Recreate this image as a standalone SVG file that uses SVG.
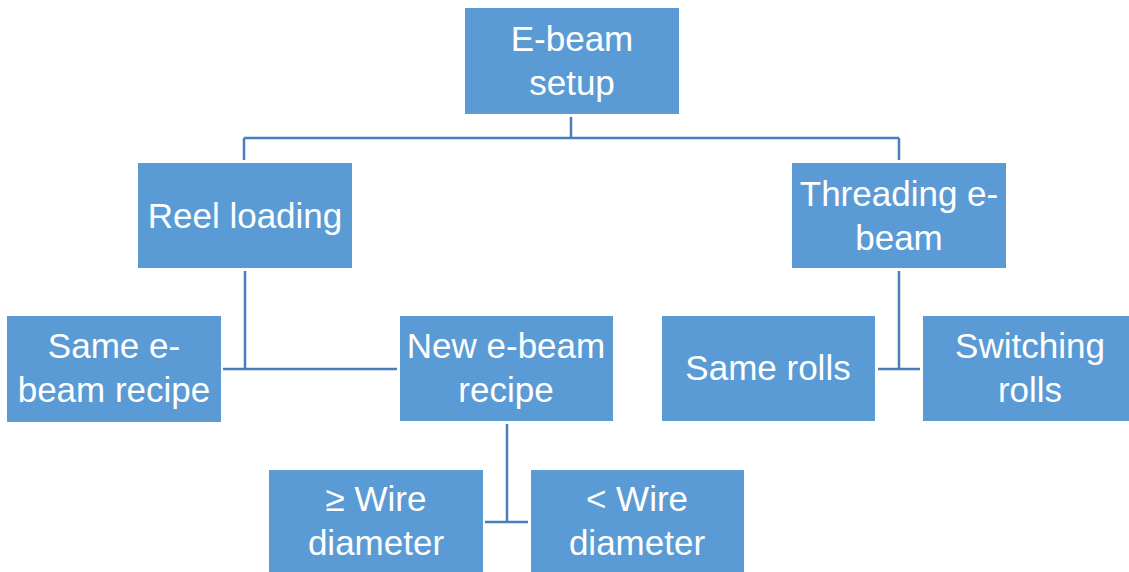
<svg xmlns="http://www.w3.org/2000/svg" width="1129" height="572" viewBox="0 0 1129 572">
<style>
.box{fill:#5b9bd5;}
.lbl{font-family:"Liberation Sans",Arial,sans-serif;font-size:35px;fill:#ffffff;text-anchor:middle;}
.con{stroke:#4a7ebb;stroke-width:2.5;fill:none;}
</style>
<rect width="1129" height="572" fill="#ffffff"/>
<g id="connectors">
<path class="con" d="M571,117 V138 M244,138 H899 M244,138 V160 M899,138 V160"/>
<path class="con" d="M245,271 V369 M223,369 H397"/>
<path class="con" d="M899,271 V369 M878,369 H920"/>
<path class="con" d="M507,424 V522 M485,522 H528"/>
</g>
<g id="n-ebeam-setup">
<rect class="box" x="465" y="8" width="214" height="106"/>
<text class="lbl" x="572" y="51">E-beam</text>
<text class="lbl" x="572" y="95">setup</text>
</g>
<g id="n-reel-loading">
<rect class="box" x="138" y="163" width="214" height="105"/>
<text class="lbl" x="245" y="228">Reel loading</text>
</g>
<g id="n-threading">
<rect class="box" x="792" y="163" width="214" height="105"/>
<text class="lbl" x="899" y="206">Threading e-</text>
<text class="lbl" x="899" y="250">beam</text>
</g>
<g id="n-same-recipe">
<rect class="box" x="7" y="316" width="214" height="106"/>
<text class="lbl" x="114" y="358">Same e-</text>
<text class="lbl" x="114" y="402">beam recipe</text>
</g>
<g id="n-new-recipe">
<rect class="box" x="400" y="316" width="213" height="105"/>
<text class="lbl" x="506" y="358">New e-beam</text>
<text class="lbl" x="506" y="402">recipe</text>
</g>
<g id="n-same-rolls">
<rect class="box" x="662" y="316" width="213" height="105"/>
<text class="lbl" x="768" y="380">Same rolls</text>
</g>
<g id="n-switching-rolls">
<rect class="box" x="923" y="316" width="206" height="105"/>
<text class="lbl" x="1030" y="358">Switching</text>
<text class="lbl" x="1030" y="402">rolls</text>
</g>
<g id="n-ge-wire">
<rect class="box" x="269" y="470" width="214" height="102"/>
<text class="lbl" x="376" y="511">≥ Wire</text>
<text class="lbl" x="376" y="555">diameter</text>
</g>
<g id="n-lt-wire">
<rect class="box" x="531" y="470" width="213" height="102"/>
<text class="lbl" x="637" y="511">&lt; Wire</text>
<text class="lbl" x="637" y="555">diameter</text>
</g>
</svg>
